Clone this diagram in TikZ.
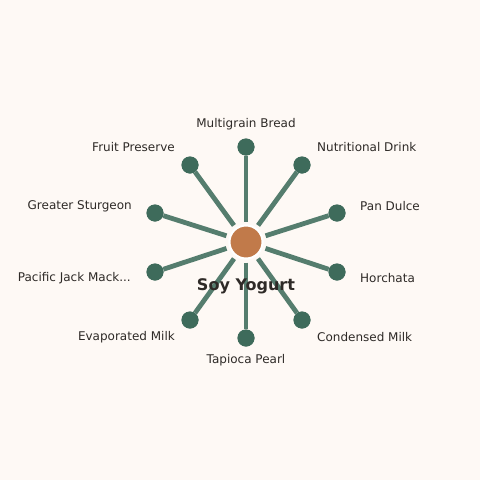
\documentclass[tikz,border=0pt]{standalone}
\usepackage{fontspec}
\setmainfont{DejaVu Sans}
\begin{document}
\definecolor{bgc}{HTML}{FEF9F5}
\definecolor{spoke}{HTML}{557D6E}
\definecolor{sat}{HTML}{3E6B5B}
\definecolor{hub}{HTML}{C17A4A}
\definecolor{txt}{HTML}{2E2A27}
\begin{tikzpicture}[x=1pt,y=-1pt,
  hubnode/.style={circle,fill=hub,draw=white,line width=2pt,minimum size=33pt,inner sep=0pt},
  satnode/.style={circle,fill=sat,minimum size=17pt,inner sep=0pt},
  spokeline/.style={draw=spoke,line width=4.8pt,shorten <=3pt},
  lbl/.style={text=txt,font=\fontsize{12}{14}\selectfont,inner sep=0pt},
  hublbl/.style={text=txt,font=\fontsize{16}{19}\selectfont\bfseries,inner sep=0pt}]
\fill[bgc] (0,0) rectangle (480,480);
\useasboundingbox (0,0) rectangle (480,480);
\node[hubnode] (c) at (246,242) {};
\coordinate (p0) at (246,147);
\coordinate (p1) at (302,165);
\coordinate (p2) at (337,213);
\coordinate (p3) at (337,272);
\coordinate (p4) at (302,320);
\coordinate (p5) at (246,338);
\coordinate (p6) at (190,320);
\coordinate (p7) at (155,272);
\coordinate (p8) at (155,213);
\coordinate (p9) at (190,165);
\foreach \i in {0,...,9} {
  \node[satnode] (s\i) at (p\i) {};
  \draw[spokeline] (c) -- (s\i);
}
\foreach \i in {0,...,9} { \node[satnode] at (p\i) {}; }
\node[hubnode] at (246,242) {};
\node[hublbl] (hl) at (246,286) {Soy Yogurt};
\node[lbl] (l0) at (246,124) {Multigrain Bread};
\node[lbl,anchor=west] (l1) at (317,147) {Nutritional Drink};
\node[lbl,anchor=west] (l2) at (360,206) {Pan Dulce};
\node[lbl,anchor=west] (l3) at (360,278) {Horchata};
\node[lbl,anchor=west] (l4) at (317,337) {Condensed Milk};
\node[lbl] (l5) at (246,360) {Tapioca Pearl};
\node[lbl,anchor=east] (l6) at (175,337) {Evaporated Milk};
\node[lbl,anchor=east] (l7) at (131,278) {Pacific Jack Mack...};
\node[lbl,anchor=east] (l8) at (132,206) {Greater Sturgeon};
\node[lbl,anchor=east] (l9) at (175,147) {Fruit Preserve};
\end{tikzpicture}
\end{document}
